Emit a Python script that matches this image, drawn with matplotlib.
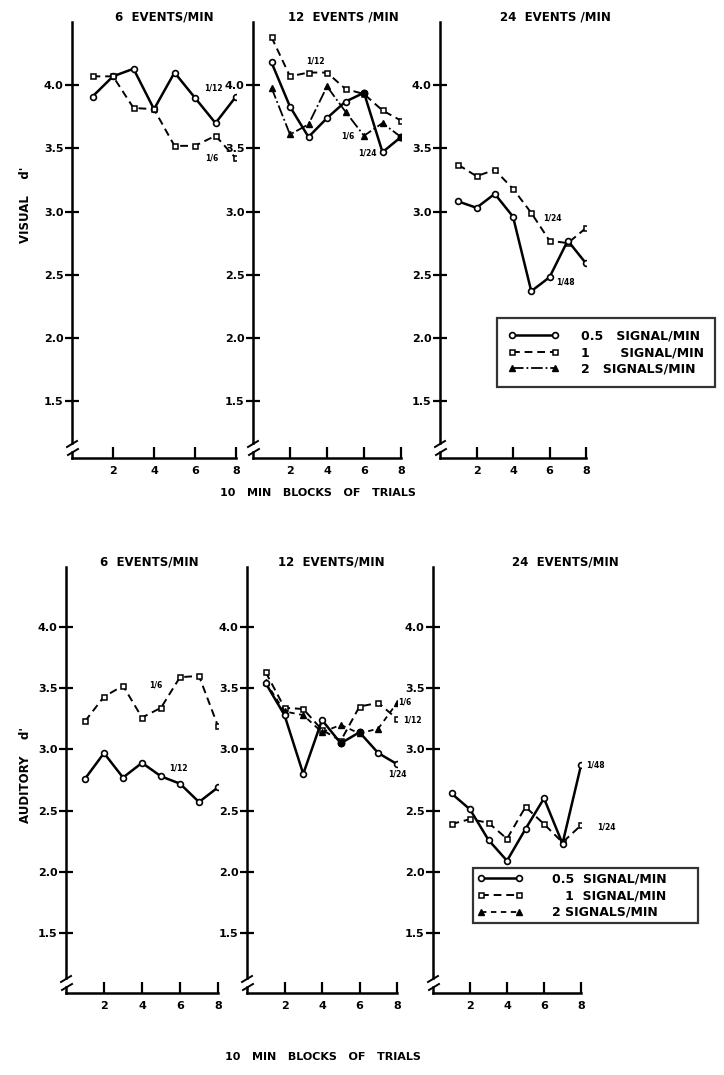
import matplotlib
matplotlib.use("Agg")
import matplotlib.pyplot as plt
from matplotlib.lines import Line2D
from matplotlib.transforms import Affine2D

plt.rcParams['font.family'] = ['DejaVu Sans']
plt.rcParams['font.weight'] = 'bold'

blocks = [1, 2, 3, 4, 5, 6, 7, 8]
yticks = [1.5, 2.0, 2.5, 3.0, 3.5, 4.0]
xticks = [2, 4, 6, 8]

# visual d'
vis_6_05 = [3.91, 4.07, 4.13, 3.81, 4.10, 3.90, 3.70, 3.91]
vis_6_1 = [4.07, 4.07, 3.82, 3.81, 3.52, 3.52, 3.60, 3.42]
vis_12_05 = [4.18, 3.83, 3.59, 3.74, 3.87, 3.94, 3.47, 3.59]
vis_12_1 = [4.38, 4.07, 4.10, 4.10, 3.97, 3.93, 3.80, 3.72]
vis_12_2 = [3.98, 3.61, 3.69, 3.99, 3.79, 3.60, 3.70, 3.59]
vis_24_05 = [3.08, 3.03, 3.14, 2.96, 2.37, 2.48, 2.77, 2.59]
vis_24_1 = [3.37, 3.28, 3.33, 3.18, 2.99, 2.77, 2.75, 2.87]

# auditory d'
aud_6_05 = [2.76, 2.97, 2.77, 2.89, 2.78, 2.72, 2.57, 2.69]
aud_6_1 = [3.23, 3.43, 3.52, 3.26, 3.34, 3.59, 3.60, 3.19]
aud_12_05 = [3.54, 3.28, 2.80, 3.24, 3.05, 3.14, 2.97, 2.88]
aud_12_1 = [3.63, 3.34, 3.33, 3.16, 3.07, 3.35, 3.38, 3.25]
aud_12_2 = [3.55, 3.31, 3.28, 3.14, 3.20, 3.13, 3.17, 3.38]
aud_24_05 = [2.64, 2.51, 2.26, 2.09, 2.35, 2.60, 2.23, 2.87]
aud_24_1 = [2.39, 2.43, 2.40, 2.27, 2.53, 2.39, 2.24, 2.38]

W, H = 724, 1075
fig = plt.figure(figsize=(W / 100, H / 100), dpi=100)
fig.patch.set_facecolor('white')
pix = Affine2D().scale(1 / W, -1 / H).translate(0, 1) + fig.transFigure

st05 = dict(color='black', lw=1.8, ls='-', marker='o', ms=4.2, mfc='white', mew=1.2)
st1 = dict(color='black', lw=1.4, ls=(0, (4, 2.5)), marker='s', ms=3.6, mfc='white', mew=1.1)
st2_top = dict(color='black', lw=1.3, ls='-.', marker='^', ms=4, mfc='black', mew=1)
st2_bot = dict(color='black', lw=1.3, ls=(0, (3, 2.5)), marker='^', ms=4, mfc='black', mew=1)


def make_axes(left, right, top, bottom, ylim):
    ax = fig.add_axes([left / W, 1 - bottom / H, (right - left) / W, (bottom - top) / H])
    ax.set_xlim(0, 8)
    ax.set_ylim(*ylim)
    for s in ['top', 'right', 'left']:
        ax.spines[s].set_visible(False)
    ax.spines['bottom'].set_linewidth(1.8)
    ax.set_yticks(yticks)
    ax.set_yticklabels(['%.1f' % t for t in yticks])
    ax.set_xticks(xticks)
    ax.tick_params(axis='y', direction='inout', length=10, width=1.6, labelsize=8, pad=1)
    ax.tick_params(axis='x', direction='in', length=8, width=1.6, labelsize=8, pad=6)
    # broken left axis
    ax.plot([left, left], [top, bottom - 15], color='black', lw=1.8, transform=pix, clip_on=False)
    ax.plot([left - 5, left + 5], [bottom - 11, bottom - 17], color='black', lw=1.4, transform=pix, clip_on=False)
    ax.plot([left, left], [bottom - 6, bottom], color='black', lw=1.8, transform=pix, clip_on=False)
    ax.plot([left - 4, left + 6], [bottom - 3, bottom - 9], color='black', lw=1.4, transform=pix, clip_on=False)
    return ax


def note(ax, x, y, s):
    ax.text(x, y, s, fontsize=5.5, ha='center', va='center', clip_on=False)


def legend(ax, handles, labels, x0, y0, hl, tp, bp):
    leg = ax.legend(handles, labels, loc='upper left', bbox_to_anchor=(x0 / W, 1 - y0 / H),
                    bbox_transform=fig.transFigure, frameon=True, fancybox=False, edgecolor='black',
                    fontsize=9, numpoints=2, handlelength=hl, handletextpad=tp, labelspacing=0.3,
                    borderpad=bp, borderaxespad=0)
    leg.get_frame().set_linewidth(1.6)
    return leg


top_ylim = (1.05, 4.5)
bot_ylim = (1.01, 4.49)
title_kw = dict(ha='center', va='center', fontsize=8.5)
xlab = '10   MIN   BLOCKS   OF   TRIALS'

# ---- top row: visual
ax = make_axes(72, 236, 22, 458, top_ylim)
ax.plot(blocks, vis_6_05, **st05)
ax.plot(blocks, vis_6_1, **st1)
note(ax, 6.9, 3.98, '1/12')
note(ax, 6.8, 3.42, '1/6')

ax = make_axes(253, 401, 22, 458, top_ylim)
ax.plot(blocks, vis_12_1, **st1)
ax.plot(blocks, vis_12_2, **st2_top)
ax.plot(blocks, vis_12_05, **st05)
ax.plot([6, 8], [vis_12_05[5], vis_12_05[7]], 'o', color='black', ms=4.6)
note(ax, 3.4, 4.19, '1/12')
note(ax, 5.1, 3.60, '1/6')
note(ax, 6.2, 3.46, '1/24')

ax = make_axes(440, 586, 22, 458, top_ylim)
ax.plot(blocks, vis_24_1, **st1)
ax.plot(blocks, vis_24_05, **st05)
note(ax, 6.15, 2.95, '1/24')
note(ax, 6.9, 2.44, '1/48')

h_top = [Line2D([0], [0], **st05), Line2D([0], [0], **st1), Line2D([0], [0], **st2_top)]
labels = ['0.5   SIGNAL/MIN', '1       SIGNAL/MIN', '2   SIGNALS/MIN']
legend(ax, h_top, labels, 497, 318, 4.0, 1.8, 0.9)

for x, s in [(164, '6  EVENTS/MIN'), (343, '12  EVENTS /MIN'), (555, '24  EVENTS /MIN')]:
    fig.text(x / W, 1 - 17 / H, s, **title_kw)
fig.text(318 / W, 1 - 493 / H, xlab, ha='center', va='center', fontsize=8)
fig.text(26 / W, 1 - 205 / H, "VISUAL    d'", rotation=90, ha='center', va='center', fontsize=8.5)

# ---- bottom row: auditory
ax = make_axes(66, 218, 567, 993, bot_ylim)
ax.plot(blocks, aud_6_1, **st1)
ax.plot(blocks, aud_6_05, **st05)
note(ax, 4.7, 3.53, '1/6')
note(ax, 5.9, 2.85, '1/12')

ax = make_axes(247, 397, 567, 993, bot_ylim)
ax.plot(blocks, aud_12_1, **st1)
ax.plot(blocks, aud_12_2, **st2_bot)
ax.plot(blocks, aud_12_05, **st05)
ax.plot([5, 6], [aud_12_05[4], aud_12_05[5]], 'o', color='black', ms=4.6)
note(ax, 8.4, 3.39, '1/6')
note(ax, 8.8, 3.24, '1/12')
note(ax, 8.0, 2.80, '1/24')

ax = make_axes(433, 581, 567, 993, bot_ylim)
ax.plot(blocks, aud_24_1, **st1)
ax.plot(blocks, aud_24_05, **st05)
note(ax, 8.8, 2.87, '1/48')
note(ax, 9.4, 2.37, '1/24')

h_bot = [Line2D([0], [0], **st05), Line2D([0], [0], **st1), Line2D([0], [0], **st2_bot)]
labels_b = ['0.5  SIGNAL/MIN      ', '   1  SIGNAL/MIN', '2 SIGNALS/MIN']
legend(ax, h_bot, labels_b, 473, 868, 3.6, 2.4, 0.35)

for x, s in [(149, '6  EVENTS/MIN'), (331, '12  EVENTS/MIN'), (565, '24  EVENTS/MIN')]:
    fig.text(x / W, 1 - 562 / H, s, **title_kw)
fig.text(323 / W, 1 - 1057 / H, xlab, ha='center', va='center', fontsize=8)
fig.text(26 / W, 1 - 775 / H, "AUDITORY    d'", rotation=90, ha='center', va='center', fontsize=8.5)

fig.savefig('out.png', dpi=100, facecolor='white')
